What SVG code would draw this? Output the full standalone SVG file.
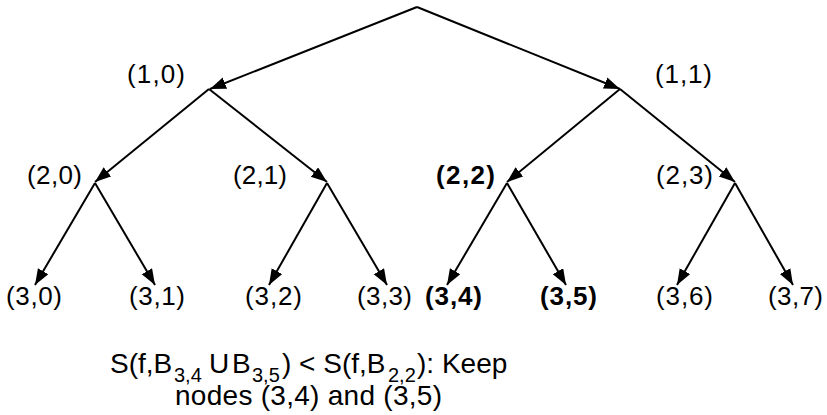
<svg xmlns="http://www.w3.org/2000/svg" width="827" height="415" viewBox="0 0 827 415">
<style>
text{font-family:"Liberation Sans",Arial,sans-serif;font-size:26px;fill:#000}
.b{font-weight:bold}
.e{fill:none;stroke:#000;stroke-width:2}
.c{font-size:28px}
.s{font-size:20px}
</style>
<defs>
<marker id="ah" markerUnits="userSpaceOnUse" markerWidth="18" markerHeight="14" refX="16" refY="6" orient="auto">
<path d="M0,0 L16,6 L0,12 z" fill="#000"/>
</marker>
</defs>
<rect width="827" height="415" fill="#fff"/>
<g id="connectors">
<path class="e" d="M417,7 L210,89" marker-end="url(#ah)"/>
<path class="e" d="M417,7 L620,89" marker-end="url(#ah)"/>
<path class="e" d="M209,89 L95,182" marker-end="url(#ah)"/>
<path class="e" d="M209,89 L327,182" marker-end="url(#ah)"/>
<path class="e" d="M620,89 L507,182" marker-end="url(#ah)"/>
<path class="e" d="M620,89 L735,182" marker-end="url(#ah)"/>
<path class="e" d="M95,183 L35,285" marker-end="url(#ah)"/>
<path class="e" d="M95,183 L155,285" marker-end="url(#ah)"/>
<path class="e" d="M327,183 L269,285" marker-end="url(#ah)"/>
<path class="e" d="M327,183 L387,285" marker-end="url(#ah)"/>
<path class="e" d="M507,183 L447,285" marker-end="url(#ah)"/>
<path class="e" d="M507,183 L566,285" marker-end="url(#ah)"/>
<path class="e" d="M735,183 L677,285" marker-end="url(#ah)"/>
<path class="e" d="M735,183 L793,285" marker-end="url(#ah)"/>
</g>
<g id="n10"><text x="127" y="83" textLength="58" lengthAdjust="spacing">(1,0)</text></g>
<g id="n11"><text x="655" y="83" textLength="57" lengthAdjust="spacing">(1,1)</text></g>
<g id="n20"><text x="27" y="184" textLength="55" lengthAdjust="spacing">(2,0)</text></g>
<g id="n21"><text x="233" y="184" textLength="54" lengthAdjust="spacing">(2,1)</text></g>
<g id="n22"><text class="b" x="436" y="184" textLength="59" lengthAdjust="spacing">(2,2)</text></g>
<g id="n23"><text x="656" y="184" textLength="57" lengthAdjust="spacing">(2,3)</text></g>
<g id="n30"><text x="6" y="305" textLength="56" lengthAdjust="spacing">(3,0)</text></g>
<g id="n31"><text x="129" y="305" textLength="56" lengthAdjust="spacing">(3,1)</text></g>
<g id="n32"><text x="245" y="305" textLength="57" lengthAdjust="spacing">(3,2)</text></g>
<g id="n33"><text x="357" y="305" textLength="55" lengthAdjust="spacing">(3,3)</text></g>
<g id="n34"><text class="b" x="425" y="305" textLength="57" lengthAdjust="spacing">(3,4)</text></g>
<g id="n35"><text class="b" x="540" y="305" textLength="57" lengthAdjust="spacing">(3,5)</text></g>
<g id="n36"><text x="656" y="305" textLength="57" lengthAdjust="spacing">(3,6)</text></g>
<g id="n37"><text x="768" y="305" textLength="55" lengthAdjust="spacing">(3,7)</text></g>
<g id="caption">
<text class="c" y="373"><tspan x="110">S(f,B</tspan><tspan class="s" x="174" dy="9">3,4</tspan><tspan x="209" dy="-9">U</tspan><tspan x="232">B</tspan><tspan class="s" x="252" dy="9">3,5</tspan><tspan x="282" dy="-9">) &lt; S(f,B</tspan><tspan class="s" x="388" dy="9">2,2</tspan><tspan x="417" dy="-9">): Keep</tspan></text>
<text class="c" x="175" y="405" textLength="267" lengthAdjust="spacing">nodes (3,4) and (3,5)</text>
</g>
</svg>
